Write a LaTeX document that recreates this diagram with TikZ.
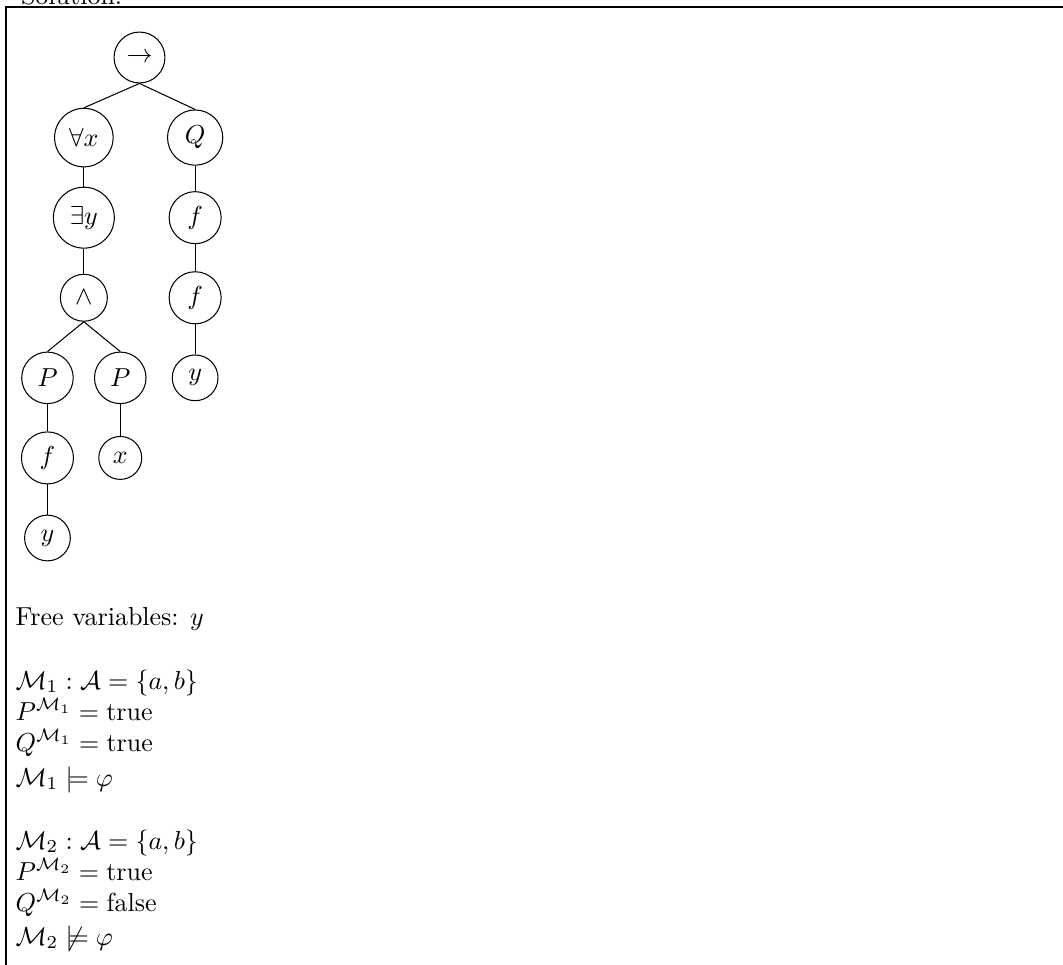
\documentclass[tikz,border=0pt]{standalone}
\usepackage{amsmath,amssymb}
\usepackage{tikz}
\usetikzlibrary{positioning}

\begin{document}
\begin{tikzpicture}[
  x=0.3846pt, y=-0.3846pt,
  node distance=30.8pt and 21.4pt, on grid,
  tnode/.style={circle, draw},
  branch/.style={},
  frame/.style={line width=0.8pt},
  txt/.style={anchor=base west, inner sep=0pt},
]
  \useasboundingbox (0,0) rectangle (1063,965);

  % Frame of the solution box
  \node[txt] (title) at (20.5,4.5) {Solution:};
  \draw[frame] (1063,7) -- (6,7) -- (6,965);

  % Parse tree of the formula
  \node[tnode] at (139.5,57.5)               (imp)    {$\rightarrow$};
  \node[tnode, below left=of imp]            (forall) {$\forall x$};
  \node[tnode, below right=of imp]           (q)      {$Q$};
  \node[tnode, below=of forall]              (exists) {$\exists y$};
  \node[tnode, below=of exists]              (and)    {$\wedge$};
  \node[tnode, below left=30.8pt and 14pt of and]  (pl) {$P$};
  \node[tnode, below right=30.8pt and 14pt of and] (pr) {$P$};
  \node[tnode, below=of pl]                  (fl)     {$f$};
  \node[tnode, below=of fl]                  (yl)     {$y$};
  \node[tnode, below=of pr]                  (x)      {$x$};
  \node[tnode, below=of q]                   (f1)     {$f$};
  \node[tnode, below=of f1]                  (f2)     {$f$};
  \node[tnode, below=of f2]                  (yr)     {$y$};

  % Edges, parent south to child north
  \draw (imp.south) -- (forall.north);
  \draw (imp.south) -- (q.north);
  \draw (forall.south) -- (exists.north);
  \draw (exists.south) -- (and.north);
  \draw (and.south) -- (pl.north);
  \draw (and.south) -- (pr.north);
  \draw (pl.south) -- (fl.north);
  \draw (fl.south) -- (yl.north);
  \draw (pr.south) -- (x.north);
  \draw (q.south) -- (f1.north);
  \draw (f1.south) -- (f2.north);
  \draw (f2.south) -- (yr.north);

  % Free variables and the two models
  \node[txt] at (15,625) (free) {Free variables: $y$};
  \node[txt] at (15,689) (m1)   {$\mathcal{M}_1 : \mathcal{A} = \{a,b\}$};
  \node[txt] at (15,720) (p1)   {$P^{\mathcal{M}_1} = \text{true}$};
  \node[txt] at (15,751) (q1)   {$Q^{\mathcal{M}_1} = \text{true}$};
  \node[txt] at (15,786) (sat1) {$\mathcal{M}_1 \models \varphi$};
  \node[txt] at (15,849) (m2)   {$\mathcal{M}_2 : \mathcal{A} = \{a,b\}$};
  \node[txt] at (15,880) (p2)   {$P^{\mathcal{M}_2} = \text{true}$};
  \node[txt] at (15,911) (q2)   {$Q^{\mathcal{M}_2} = \text{false}$};
  \node[txt] at (15,945) (sat2) {$\mathcal{M}_2 \not\models \varphi$};
\end{tikzpicture}
\end{document}
